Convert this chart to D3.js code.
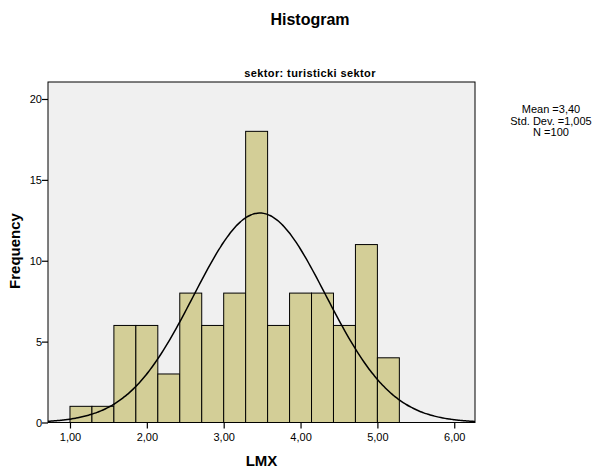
<!DOCTYPE html>
<html>
<head>
<meta charset="utf-8">
<script src="https://cdn.jsdelivr.net/npm/d3@7"></script>
<style>
  body { margin: 0; background: #fff; }
  svg text { font-family: Arial, 'Liberation Sans', sans-serif; fill: #000; }
</style>
</head>
<body>
<script>
// histogram bins (lower edges), width 2/7
var binStart = 1.0,
    binWidth = 2 / 7;
var counts = [1, 1, 6, 6, 3, 8, 6, 8, 18, 6, 8, 8, 6, 11, 4];

var xTicks = [1, 2, 3, 4, 5, 6],
    yTicks = [0, 5, 10, 15, 20];

// fitted normal curve as it appears on the plot
var curveMean = 3.47,
    curveSd = 0.86,
    curvePeak = 12.95;

var statLines = ['Mean =3,40', 'Std. Dev. =1,005', 'N =100'];

var margin = {top: 82, right: 120, bottom: 47.5, left: 48},
    W = 595, H = 470,
    width = W - margin.left - margin.right,
    height = H - margin.top - margin.bottom;

var x = d3.scaleLinear().domain([0.714, 6.27]).range([0, width]);
var y = d3.scaleLinear().domain([0, 21.05]).range([height, 0]);

var fmt = function(d) { return d3.format('.2f')(d).replace('.', ','); };

var svg = d3.select('body').append('svg')
  .attr('width', W)
  .attr('height', H);

svg.append('text')
  .attr('x', 310).attr('y', 25)
  .attr('text-anchor', 'middle')
  .style('font-size', '16px').style('font-weight', 'bold')
  .text('Histogram');

svg.append('text')
  .attr('x', 310).attr('y', 77)
  .attr('text-anchor', 'middle')
  .style('font-size', '11px').style('font-weight', 'bold')
  .style('letter-spacing', '0.4px')
  .text('sektor: turisticki sektor');

var g = svg.append('g')
  .attr('transform', 'translate(' + margin.left + ',' + margin.top + ')');

g.append('rect')
  .attr('width', width).attr('height', height)
  .attr('fill', '#f0f0f0');

var bins = counts.map(function(c, i) {
  return {x0: binStart + i * binWidth, x1: binStart + (i + 1) * binWidth, n: c};
});

g.selectAll('rect.bar')
  .data(bins)
  .enter().append('rect')
  .attr('class', 'bar')
  .attr('x', function(d) { return x(d.x0); })
  .attr('y', function(d) { return y(d.n); })
  .attr('width', function(d) { return x(d.x1) - x(d.x0); })
  .attr('height', function(d) { return y(0) - y(d.n); })
  .attr('fill', '#d3ce97')
  .attr('stroke', '#000')
  .attr('stroke-width', 1);

var curveX = d3.range(0, 201).map(function(i) {
  return x.domain()[0] + i * (x.domain()[1] - x.domain()[0]) / 200;
});
var line = d3.line()
  .curve(d3.curveMonotoneX)
  .x(function(d) { return x(d); })
  .y(function(d) {
    var z = (d - curveMean) / curveSd;
    return y(curvePeak * Math.exp(-0.5 * z * z));
  });

g.append('path')
  .datum(curveX)
  .attr('d', line)
  .attr('fill', 'none')
  .attr('stroke', '#000')
  .attr('stroke-width', 1.5);

g.append('rect')
  .attr('width', width).attr('height', height)
  .attr('fill', 'none')
  .attr('stroke', '#000')
  .attr('stroke-width', 1);

var xAxis = g.append('g')
  .attr('transform', 'translate(0,' + height + ')')
  .call(d3.axisBottom(x).tickValues(xTicks).tickFormat(fmt).tickSize(6).tickSizeOuter(0));
var yAxis = g.append('g')
  .call(d3.axisLeft(y).tickValues(yTicks).tickFormat(d3.format('d')).tickSize(6).tickSizeOuter(0));

[xAxis, yAxis].forEach(function(a) {
  a.select('.domain').remove();
  a.selectAll('line').attr('stroke', '#000').attr('stroke-width', 1.2);
  a.selectAll('text').style('font-size', '11px').style('font-family', "Arial, 'Liberation Sans', sans-serif");
});
xAxis.selectAll('text').attr('dy', '0.9em');
yAxis.selectAll('text').attr('x', -6);

svg.append('text')
  .attr('x', margin.left + width / 2).attr('y', 466)
  .attr('text-anchor', 'middle')
  .style('font-size', '15px').style('font-weight', 'bold')
  .text('LMX');

svg.append('text')
  .attr('transform', 'translate(20,251) rotate(-90)')
  .attr('text-anchor', 'middle')
  .style('font-size', '15px').style('font-weight', 'bold')
  .text('Frequency');

svg.append('g').selectAll('text')
  .data(statLines)
  .enter().append('text')
  .attr('x', 551)
  .attr('y', function(d, i) { return 113 + i * 11.5; })
  .attr('text-anchor', 'middle')
  .style('font-size', '11px')
  .text(function(d) { return d; });
</script>
</body>
</html>
